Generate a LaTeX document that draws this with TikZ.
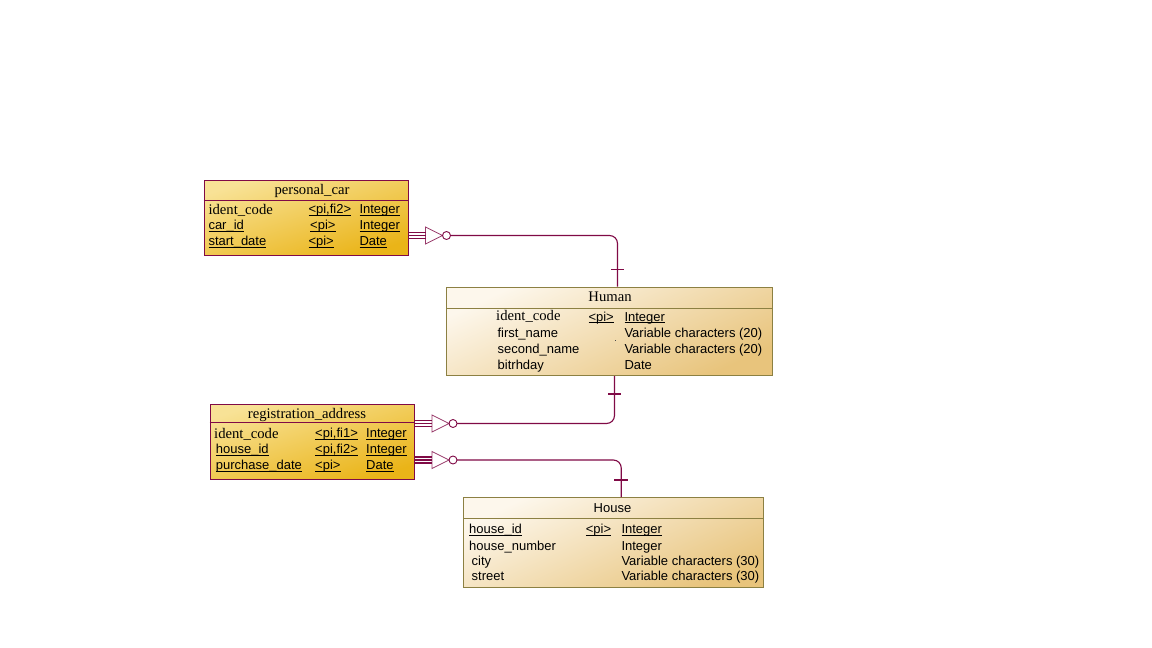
\documentclass[tikz,border=0pt]{standalone}
\usepackage{fontspec}
\setmainfont{Liberation Serif}
\setsansfont{Liberation Sans}
% underline drawn as a rule just below the baseline
\newcommand\ulbox[1]{\setbox0=\hbox{#1}\rlap{\rule[-2pt]{\wd0}{0.9pt}}\box0}
\definecolor{relcol}{RGB}{128,10,70}
\definecolor{olive}{RGB}{140,128,66}
\definecolor{goldlight}{RGB}{248,226,150}
\definecolor{golddark}{RGB}{234,180,24}
\definecolor{creamlight}{RGB}{253,247,236}
\definecolor{creamdark}{RGB}{232,196,124}
% optional-many end: three short lines, open triangle and small circle;
% #1 is the point on the table edge, #2 the coordinate left after the circle
\newcommand\manyend[2]{%
  \begin{scope}[shift={(#1)}]
    \draw[conn] (0,-3) -- (17,-3) (0,0) -- (17,0) (0,3) -- (17,3);
    \draw[conn, line width=0.8pt, draw opacity=0.8] (17,-8.5) -- (34,0) -- (17,8.5) -- cycle;
    \draw[conn, line width=0.9pt] (38,0) circle[radius=4pt];
    \coordinate (#2) at (42,0);
  \end{scope}}
\begin{document}
\begin{tikzpicture}[x=1pt,y=-1pt,
  goldbox/.style={draw=relcol, line width=1pt, inner sep=0pt, anchor=north west,
    shade, top color=goldlight, bottom color=golddark, shading angle=18},
  creambox/.style={draw=olive, line width=1pt, inner sep=0pt, anchor=north west,
    shade, top color=creamlight, bottom color=creamdark, shading angle=25},
  serif/.style={font=\fontsize{14.67}{16}\selectfont\rmfamily, inner sep=0pt, anchor=base west},
  sans/.style={font=\fontsize{13}{15}\selectfont\sffamily, inner sep=0pt, anchor=base west},
  serifttl/.style={serif, anchor=base},
  sansttl/.style={sans, anchor=base},
  conn/.style={draw=relcol, line width=1.1pt},
  bar/.style={draw=relcol, line width=1.1pt}]

% canvas
\fill[white] (0,0) rectangle (1152,648);
\useasboundingbox (0,0) rectangle (1152,648);

% ---------------- tables ----------------
\node[goldbox, minimum width=204pt, minimum height=75pt] (pc) at (203.5,179.5) {};
\draw[relcol, line width=1pt] ([yshift=-20.5pt]pc.north west) -- ([yshift=-20.5pt]pc.north east);

\node[creambox, minimum width=325.5pt, minimum height=88.5pt] (human) at (446,286.5) {};
\draw[olive, line width=1pt] ([yshift=-21.5pt]human.north west) -- ([yshift=-21.5pt]human.north east);

\node[goldbox, minimum width=204.5pt, minimum height=75pt] (ra) at (209.5,403.5) {};
\draw[relcol, line width=1pt] ([yshift=-19pt]ra.north west) -- ([yshift=-19pt]ra.north east);

\node[creambox, minimum width=299.5pt, minimum height=90pt] (house) at (463,497) {};
\draw[olive, line width=1pt] ([yshift=-21.5pt]house.north west) -- ([yshift=-21.5pt]house.north east);

% ---------------- personal_car ----------------
\node[serifttl] (pc-t) at (312,194) {personal\_car};
\node[serif] (pc-n1) at (208.3,214.5) {ident\_code};
\node[sans] (pc-k1) at (308.3,213.5) {\ulbox{<pi,fi2>}};
\node[sans] (pc-d1) at (359.3,213.5) {\ulbox{Integer}};
\node[sans] (pc-n2) at (208.3,229.5) {\ulbox{car\_id}};
\node[sans] (pc-k2) at (310,229.5) {\ulbox{<pi>}};
\node[sans] (pc-d2) at (359.3,229.5) {\ulbox{Integer}};
\node[sans] (pc-n3) at (208.3,245.5) {\ulbox{start\_date}};
\node[sans] (pc-k3) at (308.3,245.5) {\ulbox{<pi>}};
\node[sans] (pc-d3) at (359.3,245.5) {\ulbox{Date}};

% ---------------- Human ----------------
\node[serifttl] (h-t) at (610,301.5) {Human};
\node[serif] (h-n1) at (496,320.5) {ident\_code};
\node[sans] (h-k1) at (588.3,321) {\ulbox{<pi>}};
\node[sans] (h-d1) at (624.3,321) {\ulbox{Integer}};
\node[sans] (h-n2) at (497.3,337.3) {first\_name};
\node[sans] (h-d2) at (624.3,337.3) {Variable characters (20)};
\node[sans] (h-n3) at (497.5,353.6) {second\_name};
\node[sans] (h-d3) at (624.3,353.6) {Variable characters (20)};
\node[sans] (h-n4) at (497.5,369.5) {bitrhday};
\node[sans] (h-d4) at (624.3,369.5) {Date};
\fill[black!70] (615.2,339.6) rectangle (616.2,340.6);

% ---------------- registration_address ----------------
\node[serifttl] (ra-t) at (307,418.3) {registration\_address};
\node[serif] (ra-n1) at (214,438.5) {ident\_code};
\node[sans] (ra-k1) at (315,437.5) {\ulbox{<pi,fi1>}};
\node[sans] (ra-d1) at (366,437.5) {\ulbox{Integer}};
\node[sans] (ra-n2) at (215.7,453.5) {\ulbox{house\_id}};
\node[sans] (ra-k2) at (315,453.5) {\ulbox{<pi,fi2>}};
\node[sans] (ra-d2) at (366,453.5) {\ulbox{Integer}};
\node[sans] (ra-n3) at (215.7,469.5) {\ulbox{purchase\_date}};
\node[sans] (ra-k3) at (315,469.5) {\ulbox{<pi>}};
\node[sans] (ra-d3) at (366,469.5) {\ulbox{Date}};

% ---------------- House ----------------
\node[sansttl] (ho-t) at (612.5,512.7) {House};
\node[sans] (ho-n1) at (469,533.5) {\ulbox{house\_id}};
\node[sans] (ho-k1) at (585.7,533.5) {\ulbox{<pi>}};
\node[sans] (ho-d1) at (621.3,533.5) {\ulbox{Integer}};
\node[sans] (ho-n2) at (469,550) {house\_number};
\node[sans] (ho-d2) at (621.3,550) {Integer};
\node[sans] (ho-n3) at (471.5,565.5) {city};
\node[sans] (ho-d3) at (621.3,565.5) {Variable characters (30)};
\node[sans] (ho-n4) at (471.5,580.5) {street};
\node[sans] (ho-d4) at (621.3,580.5) {Variable characters (30)};

% ---------------- relationships ----------------
% personal_car -> Human
\manyend{[yshift=-18pt]pc.east}{c1}
\coordinate (h1) at ([xshift=8.25pt]human.north);
\draw[conn, rounded corners=8pt] (c1) -| (h1);
\draw[bar] ([shift={(-6.5,-17)}]h1) -- ([shift={(6.5,-17)}]h1);

% registration_address -> Human
\manyend{[yshift=18pt]ra.east}{c2}
\coordinate (h2) at ([xshift=5.25pt]human.south);
\draw[conn, rounded corners=8pt] (c2) -| (h2);
\draw[bar] ([shift={(-6.5,18)}]h2) -- ([shift={(6.5,18)}]h2);

% registration_address -> House
\manyend{[yshift=-18.5pt]ra.east}{c3}
\coordinate (h3) at ([xshift=8pt]house.north);
\draw[conn, rounded corners=8pt] (c3) -| (h3);
\draw[bar] ([shift={(-7,-17)}]h3) -- ([shift={(7,-17)}]h3);

\end{tikzpicture}
\end{document}
